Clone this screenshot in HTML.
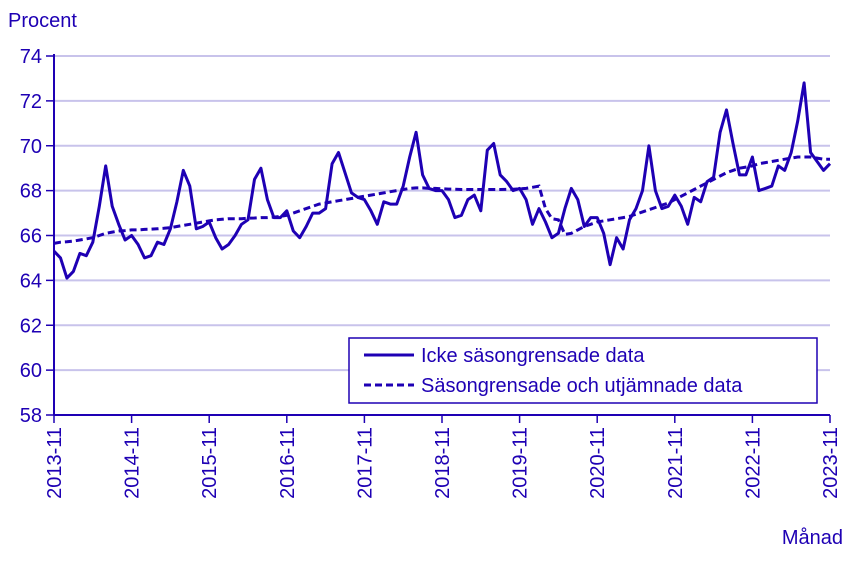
<!DOCTYPE html>
<html><head><meta charset="utf-8"><style>
body{margin:0;background:#fff;}
svg text{font-family:"Liberation Sans",sans-serif;fill:#1e00b4;}
</style></head><body>
<svg id="chart" width="851" height="557" xmlns="http://www.w3.org/2000/svg">
<g id="grid"></g>
<g id="axes"></g>
<g id="series"></g>
<text x="8" y="27" font-size="20">Procent</text>
<text x="843" y="544" font-size="20" text-anchor="end">Månad</text>
<g>
<rect x="349" y="338" width="468" height="65" fill="#fff" stroke="#1e00b4" stroke-width="1.5"/>
<line x1="364" y1="355" x2="414" y2="355" stroke="#1e00b4" stroke-width="3"/>
<text x="421" y="362" font-size="20">Icke säsongrensade data</text>
<line x1="364" y1="385" x2="414" y2="385" stroke="#1e00b4" stroke-width="3" stroke-dasharray="7,4"/>
<text x="421" y="392" font-size="20">Säsongrensade och utjämnade data</text>
</g>
</svg>
<script>
const yTicks=[58,60,62,64,66,68,70,72,74];
const xTickLabels=["2013-11","2014-11","2015-11","2016-11","2017-11","2018-11","2019-11","2020-11","2021-11","2022-11","2023-11"];
const rawSeries=[65.3,65.0,64.1,64.4,65.2,65.1,65.7,67.3,69.1,67.3,66.5,65.8,66.0,65.6,65.0,65.1,65.7,65.6,66.3,67.5,68.9,68.2,66.3,66.4,66.6,65.9,65.4,65.6,66.0,66.5,66.7,68.5,69.0,67.6,66.8,66.8,67.1,66.2,65.9,66.4,67.0,67.0,67.2,69.2,69.7,68.8,67.9,67.7,67.6,67.1,66.5,67.5,67.4,67.4,68.2,69.5,70.6,68.7,68.1,68.0,68.0,67.6,66.8,66.9,67.6,67.8,67.1,69.8,70.1,68.7,68.4,68.0,68.1,67.6,66.5,67.2,66.6,65.9,66.1,67.2,68.1,67.6,66.4,66.8,66.8,66.1,64.7,65.9,65.4,66.7,67.2,68.0,70.0,68.0,67.2,67.3,67.8,67.3,66.5,67.7,67.5,68.4,68.6,70.6,71.6,70.1,68.7,68.7,69.5,68.0,68.1,68.2,69.1,68.9,69.7,71.1,72.8,69.7,69.3,68.9,69.2];
const smoothSeries=[65.65,65.7,65.72,65.75,65.8,65.85,65.9,66.0,66.1,66.15,66.2,66.22,66.25,66.25,66.27,66.28,66.3,66.32,66.35,66.4,66.45,66.5,66.55,66.6,66.65,66.7,66.72,66.75,66.75,66.75,66.77,66.78,66.8,66.8,66.82,66.85,66.9,67.0,67.1,67.2,67.3,67.4,67.45,67.5,67.55,67.6,67.65,67.7,67.75,67.8,67.85,67.9,67.95,68.0,68.05,68.1,68.12,68.12,68.1,68.1,68.08,68.07,68.06,68.05,68.05,68.05,68.05,68.05,68.05,68.05,68.06,68.06,68.08,68.1,68.15,68.2,67.2,66.75,66.7,66.05,66.1,66.25,66.4,66.5,66.6,66.65,66.7,66.75,66.8,66.85,66.95,67.05,67.15,67.25,67.35,67.45,67.6,67.75,67.9,68.05,68.2,68.35,68.5,68.65,68.8,68.9,69.0,69.05,69.1,69.2,69.25,69.3,69.35,69.4,69.45,69.5,69.5,69.5,69.45,69.4,69.4];
const NS="http://www.w3.org/2000/svg";
const X0=54,X1=830,Y0=415,Y1=56,C="#1e00b4";
function xs(i){return X0+(X1-X0)*i/120;}
function ys(v){return Y0-(v-58)/(74-58)*(Y0-Y1);}
function mk(tag,attrs,parent){const e=document.createElementNS(NS,tag);for(const k in attrs)e.setAttribute(k,attrs[k]);parent.appendChild(e);return e;}
const grid=document.getElementById('grid'),axes=document.getElementById('axes'),series=document.getElementById('series');
yTicks.forEach(v=>{
 if(v>58){const g=mk('line',{x1:X0,x2:X1,y1:ys(v),y2:ys(v),stroke:'#c8c3eb','stroke-width':2},grid);
 
 }
 const t=mk('line',{x1:X0-8,x2:X0,y1:ys(v),y2:ys(v),stroke:C,'stroke-width':1.5},axes);
 
 
 const l=mk('text',{x:X0-12,y:ys(v)+7,'font-size':20,'text-anchor':'end'},axes);l.textContent=v;
 
 
});
const ya=mk('line',{x1:X0,x2:X0,y1:Y1-2,y2:Y0,stroke:C,'stroke-width':2},axes);


const xa=mk('line',{x1:X0,x2:X1,y1:Y0,y2:Y0,stroke:C,'stroke-width':2},axes);


xTickLabels.forEach((s,k)=>{
 const x=xs(k*12);
 const t=mk('line',{x1:x,x2:x,y1:Y0,y2:Y0+8,stroke:C,'stroke-width':1.5},axes);
 
 
 const l=mk('text',{x:0,y:0,'font-size':20,'text-anchor':'end',transform:`translate(${x+7},${Y0+12}) rotate(-90)`},axes);l.textContent=s;
 
 
});
function pts(a){return a.map((v,i)=>xs(i).toFixed(1)+','+ys(v).toFixed(1)).join(' ');}
const p1=mk('polyline',{points:pts(smoothSeries),fill:'none',stroke:C,'stroke-width':3,'stroke-dasharray':'7,4'},series);


const p2=mk('polyline',{points:pts(rawSeries),fill:'none',stroke:C,'stroke-width':3,'stroke-linejoin':'round'},series);


</script>
</body></html>
